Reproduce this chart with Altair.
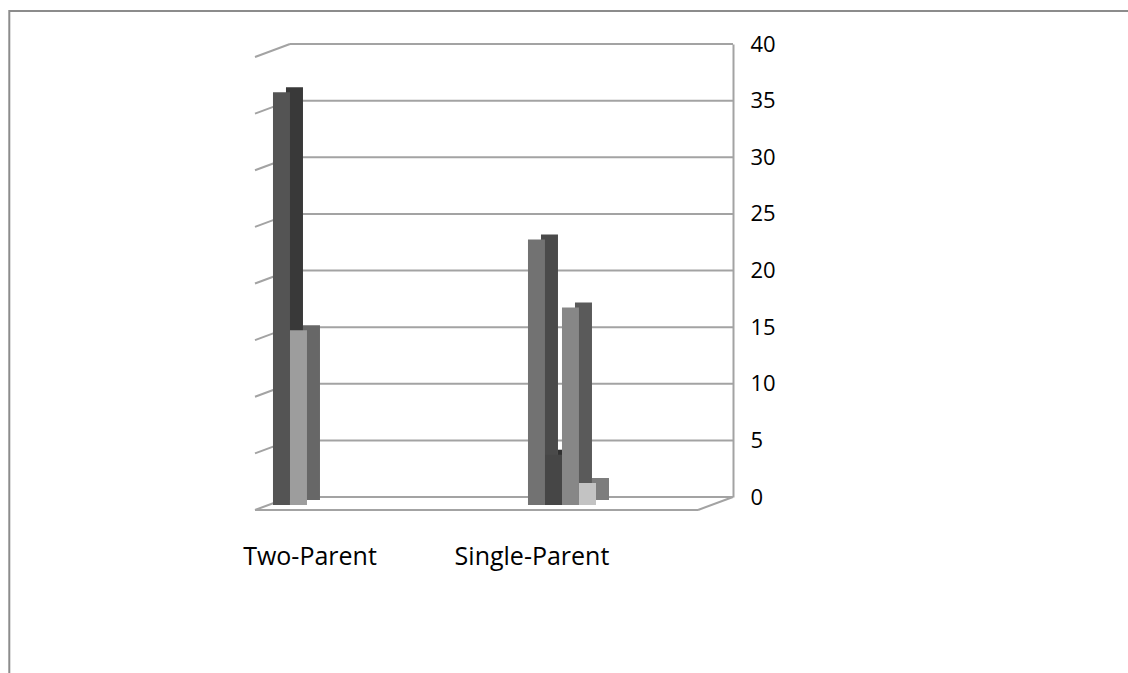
import altair as alt
import pandas as pd

# ---------------- data ----------------
categories = ["Two-Parent", "Single-Parent"]
series = ["S1", "S2", "S3", "S4"]
two_parent_values = [36, 15]
single_parent_values = [23, 4, 17, 1.5]
y_ticks = [0, 5, 10, 15, 20, 25, 30, 35, 40]

rows = []
for s, v in zip(series, two_parent_values):
    rows.append({"group": categories[0], "series": s, "value": v})
for s, v in zip(series, single_parent_values):
    rows.append({"group": categories[1], "series": s, "value": v})
bars = pd.DataFrame(rows)
bars["key"] = bars["group"] + "|" + bars["series"]
keys = list(bars["key"])

front_colors = ["#545454", "#9d9d9d", "#727272", "#464646", "#878787", "#c3c3c3"]
side_colors = ["#393939", "#676767", "#4a4a4a", "#303030", "#5a5a5a", "#7d7d7d"]

ticks_df = pd.DataFrame({"tick": y_ticks})
one = pd.DataFrame({"f": [0]})

# ---------------- layout ----------------
W, H = 478, 453
DX, DY = 35, 13
GRID = "#a3a3a3"

yscale = alt.Scale(domain=[0, 40], nice=False, zero=True)
y_axis = alt.Axis(
    orient="right", values=y_ticks, grid=False, ticks=False,
    domain=True, domainColor=GRID, domainWidth=2,
    labelFont="Open Sans", labelFontSize=22, labelColor="#000000",
    labelPadding=17, labelBaseline="middle", title=None,
)

x_axis = alt.Axis(
    orient="bottom", domain=False, ticks=False, grid=False,
    labelFont="Open Sans", labelFontSize=25, labelColor="#000000",
    labelPadding=47, labelAngle=0, title=None,
    labelOffset={"condition": {"test": "datum.value == 'Single-Parent'", "value": -30}, "value": 3},
)
x_enc = alt.X(
    "group:N", sort=categories, title=None,
    scale=alt.Scale(paddingInner=0.7333, paddingOuter=0.3039, align=0.116),
    axis=x_axis,
)
xoff_front = alt.XOffset("series:N", sort=series,
                         scale=alt.Scale(domain=series, paddingInner=0, paddingOuter=0))
xoff_back = alt.XOffset("series:N", sort=series,
                        scale=alt.Scale(domain=series, range=[13, 81], paddingInner=0, paddingOuter=0))

frame = alt.Chart(one).mark_rect(fill=None, stroke="#8c8c8c", strokeWidth=2, clip=False).encode(
    x=alt.value(-245.7), x2=alt.value(900), y=alt.value(-33), y2=alt.value(700)
)

grid = alt.Chart(ticks_df).mark_rule(color=GRID, strokeWidth=2).encode(
    y=alt.Y("tick:Q", scale=yscale, axis=y_axis, title=None), x=alt.value(DX), x2=alt.value(W)
)

wall_ticks = alt.Chart(ticks_df).mark_rule(color=GRID, strokeWidth=2, yOffset=DY).encode(
    y=alt.Y("tick:Q", scale=yscale, axis=y_axis, title=None), y2=alt.Y2("tick:Q"),
    x=alt.value(0), x2=alt.value(DX)
)

floor_front = alt.Chart(one).mark_rule(color=GRID, strokeWidth=2, yOffset=DY, y2Offset=DY).encode(
    y=alt.Y("f:Q", scale=yscale, axis=y_axis, title=None), y2=alt.Y2("f:Q"),
    x=alt.value(0), x2=alt.value(W - DX)
)
floor_right = alt.Chart(one).mark_rule(color=GRID, strokeWidth=2, yOffset=DY).encode(
    y=alt.Y("f:Q", scale=yscale, axis=y_axis, title=None), y2=alt.Y2("f:Q"),
    x=alt.value(W - DX), x2=alt.value(W)
)

back = alt.Chart(bars).mark_bar(yOffset=-2, y2Offset=3).encode(
    x=x_enc, xOffset=xoff_back,
    y=alt.Y("value:Q", scale=yscale, axis=y_axis, title=None), y2=alt.datum(0),
    color=alt.Color("key:N", scale=alt.Scale(domain=keys, range=side_colors), legend=None),
)
front = alt.Chart(bars).mark_bar(yOffset=3, y2Offset=8).encode(
    x=x_enc, xOffset=xoff_front,
    y=alt.Y("value:Q", scale=yscale, axis=y_axis, title=None), y2=alt.datum(0),
    color=alt.Color("key:N", scale=alt.Scale(domain=keys, range=front_colors), legend=None),
)

chart = alt.layer(frame, grid, wall_ticks, floor_front, floor_right, back, front).resolve_scale(
    color="independent", xOffset="independent"
).properties(
    width=W, height=H,
    autosize=alt.AutoSizeParams(type="none"),
    padding={"left": 255, "top": 44, "right": 1128 - 255 - W, "bottom": 673 - 44 - H},
    background="#ffffff",
).configure_view(stroke=None)

chart.save("out.html", embed_options={"renderer": "svg", "actions": False})
